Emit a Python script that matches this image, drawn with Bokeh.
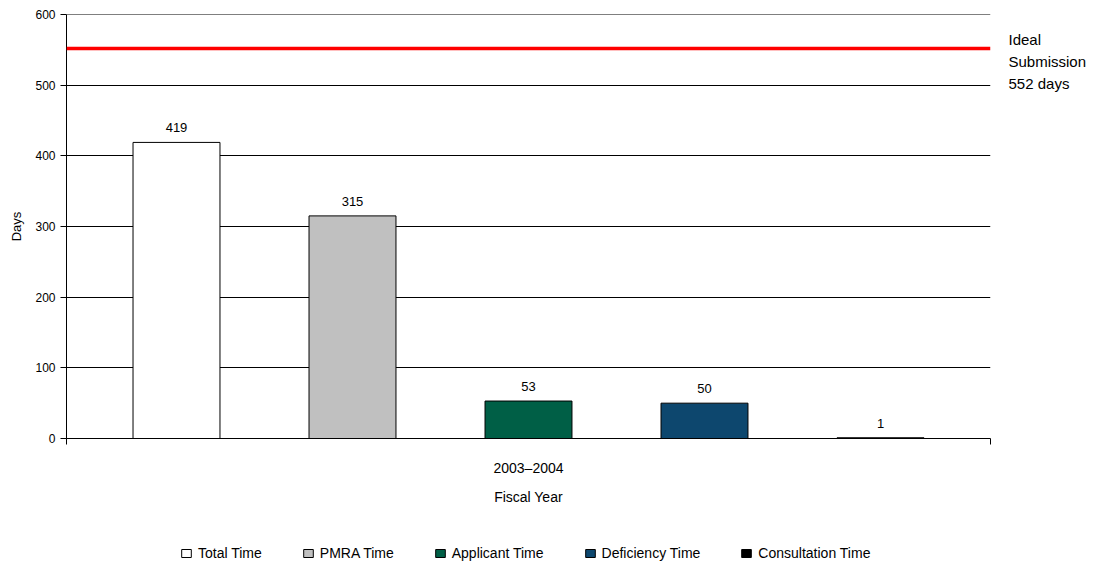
from bokeh.plotting import figure
from bokeh.layouts import column
from bokeh.models import (Range1d, FixedTicker, LinearAxis, Span, Legend,
                          LegendItem, ColumnDataSource)
from bokeh.embed import file_html
from bokeh.resources import INLINE
from bokeh.core.properties import value

series = ["Total Time", "PMRA Time", "Applicant Time", "Deficiency Time", "Consultation Time"]
days = [419, 315, 53, 50, 1]
colors = ["#ffffff", "#c0c0c0", "#005f46", "#0d476e", "#000000"]
fiscal_year = "2003\u20132004"
ideal_days = 552
ideal_text = ["Ideal", "Submission", f"{ideal_days} days"]
y_ticks = [0, 100, 200, 300, 400, 500, 600]

FONT = "Liberation Sans"
xs = list(range(len(series)))

p = figure(width=1094, height=512, output_backend="svg", toolbar_location=None,
           x_range=Range1d(-0.625, 4.625), y_range=Range1d(0, 600),
           min_border_left=66, min_border_right=104, min_border_top=14, min_border_bottom=74,
           x_axis_location=None)
p.outline_line_color = None
p.xgrid.grid_line_color = None
p.ygrid.grid_line_color = "black"
p.ygrid.grid_line_width = 1
p.ygrid.ticker = FixedTicker(ticks=y_ticks)

p.yaxis.ticker = FixedTicker(ticks=y_ticks)
p.yaxis.minor_tick_line_color = None
p.yaxis.major_tick_in = 0
p.yaxis.major_tick_out = 6
p.yaxis.axis_line_color = "black"
p.yaxis.major_label_text_font = FONT
p.yaxis.major_label_text_font_size = "12px"
p.yaxis.major_label_text_color = "black"
p.yaxis.axis_label = "Days"
p.yaxis.axis_label_text_font = FONT
p.yaxis.axis_label_text_font_style = "normal"
p.yaxis.axis_label_text_font_size = "13px"
p.yaxis.axis_label_text_color = "black"
p.yaxis.axis_label_standoff = 8

# right-hand note for the ideal line, set as tick labels of a bare right axis
note_ticks = [ideal_days + 12, ideal_days - 19, ideal_days - 49]
yr = LinearAxis(ticker=FixedTicker(ticks=note_ticks),
                major_label_overrides={t: s for t, s in zip(note_ticks, ideal_text)})
yr.axis_line_color = None
yr.major_tick_line_color = None
yr.minor_tick_line_color = None
yr.major_tick_in = 0
yr.major_tick_out = 0
yr.major_label_standoff = 18
yr.major_label_text_font = FONT
yr.major_label_text_font_size = "15px"
yr.major_label_text_color = "black"
p.add_layout(yr, "right")

xa = LinearAxis(ticker=FixedTicker(ticks=[-0.625, 4.625]),
                major_label_overrides={-0.625: " ", 4.625: " "})
xa.minor_tick_line_color = None
xa.major_tick_in = 0
xa.major_tick_out = 6
xa.major_label_text_font_size = "4px"
xa.axis_label = fiscal_year
xa.axis_label_text_font = FONT
xa.axis_label_text_font_style = "normal"
xa.axis_label_text_font_size = "14px"
xa.axis_label_text_color = "black"
xa.axis_label_standoff = 2
p.add_layout(xa, "below")

xb = LinearAxis(ticker=FixedTicker(ticks=[2.0]), major_label_overrides={2.0: " "})
xb.axis_line_color = None
xb.major_tick_line_color = None
xb.minor_tick_line_color = None
xb.major_tick_in = 0
xb.major_tick_out = 0
xb.major_label_text_font_size = "2px"
xb.axis_label = "Fiscal Year"
xb.axis_label_text_font = FONT
xb.axis_label_text_font_style = "normal"
xb.axis_label_text_font_size = "14px"
xb.axis_label_text_color = "black"
xb.axis_label_standoff = 0
p.add_layout(xb, "below")

p.add_layout(Span(location=y_ticks[-1], dimension="width", line_color="black",
                  line_width=1))

for i, (s, d, c) in enumerate(zip(series, days, colors)):
    src = ColumnDataSource(dict(x=[xs[i]], top=[d], lab=[str(d)]))
    p.vbar(x="x", top="top", width=0.494, source=src, fill_color=c,
           line_color="black", line_width=1)
    p.text(x="x", y="top", text="lab", source=src, text_align="center",
           text_baseline="bottom", y_offset=-10, text_font=value(FONT),
           text_font_size="13px", text_color="black")

p.add_layout(Span(location=ideal_days, dimension="width", line_color="#ff0000",
                  line_width=3.5))

# legend strip below the chart
lg = figure(width=1094, height=53, output_backend="svg", toolbar_location=None,
            x_range=Range1d(10, 11), y_range=Range1d(-1001, -1000),
            min_border_left=0, min_border_right=0, min_border_top=0, min_border_bottom=0,
            x_axis_location=None, y_axis_location=None)
lg.outline_line_color = None
lg.grid.visible = False
items = []
for i, (s, d, c) in enumerate(zip(series, days, colors)):
    src = ColumnDataSource(dict(x=[xs[i]], top=[d]))
    r = lg.vbar(x="x", top="top", width=0.494, source=src, fill_color=c,
                line_color="black", line_width=1, visible=False)
    items.append(LegendItem(label=s, renderers=[r]))

legend = Legend(items=items, orientation="horizontal", location=(114, 4),
                label_text_font=FONT, label_text_font_size="14px", label_text_color="black",
                glyph_width=12, glyph_height=10, label_standoff=6, spacing=40,
                border_line_color=None, background_fill_alpha=0, margin=0,
                padding=0, inactive_fill_alpha=0)
lg.add_layout(legend)

layout = column(p, lg, spacing=0)
open("out.html", "w").write(file_html(layout, INLINE))
